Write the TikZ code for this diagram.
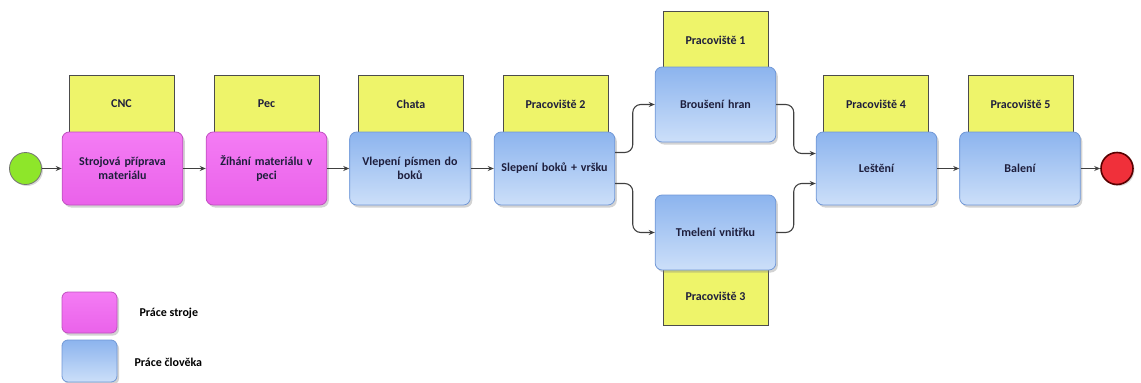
\documentclass[tikz,border=0pt]{standalone}
\usepackage{fontspec}
\setmainfont{Carlito}
\usetikzlibrary{shadows,calc,arrows.meta}
\definecolor{bluetop}{HTML}{8CB4EE}
\definecolor{bluebot}{HTML}{CCDFF9}
\definecolor{bluedraw}{HTML}{7097D6}
\definecolor{pinktop}{HTML}{F47CF4}
\definecolor{pinkbot}{HTML}{EA62EA}
\definecolor{pinkdraw}{HTML}{C050C0}
\definecolor{yel}{HTML}{EEF46A}
\definecolor{txt}{HTML}{1E1E3C}
\definecolor{arr}{HTML}{404040}
\definecolor{startg}{HTML}{8EE62A}
\definecolor{endr}{HTML}{F0303A}
\begin{document}
\begin{tikzpicture}[x=1pt,y=-1pt,
  every node/.style={font=\bfseries\fontsize{12}{14}\selectfont, text=txt, align=center},
  proc/.style={rounded corners=7pt, minimum width=120pt, minimum height=73pt, text width=114pt, line width=0.8pt,
    drop shadow={shadow xshift=2pt, shadow yshift=-2.5pt, opacity=0.35}},
  machine/.style={proc, draw=pinkdraw, top color=pinktop, bottom color=pinkbot},
  human/.style={proc, draw=bluedraw, top color=bluetop, bottom color=bluebot},
  place/.style={draw=black!70, fill=yel, minimum width=105pt, minimum height=58pt, inner sep=0pt},
  flow/.style={draw=arr, line width=1.1pt, -{Stealth[length=6pt,width=5pt]}},
  startev/.style={circle, draw=black!55, fill=startg, minimum size=32pt, inner sep=0pt, line width=0.8pt,
    drop shadow={shadow xshift=1.5pt, shadow yshift=-1.5pt, opacity=0.3}},
  endev/.style={circle, draw=red!35!black, fill=endr, minimum size=32pt, inner sep=0pt, line width=1.6pt,
    drop shadow={shadow xshift=1.5pt, shadow yshift=-1.5pt, opacity=0.3}},
  legtext/.style={anchor=west, text=black},
]
\useasboundingbox (0,0) rectangle (1141,383);
% place (workplace) labels
\node[place] (p0) at (121.5,104) {CNC};
\node[place] (p1) at (266.5,104) {Pec};
\node[place] (p2) at (411,104) {Chata};
\node[place] (p3) at (555.5,104) {Pracoviště 2};
\node[place] (pb) at (715.5,40.5) {Pracoviště 1};
\node[place] (pt) at (715.5,296.5) {Pracoviště 3};
\node[place] (p4) at (876,104) {Pracoviště 4};
\node[place] (p5) at (1020.5,104) {Pracoviště 5};
% events
\node[startev] (s) at (25.5,168.5) {};
\node[endev] (e) at (1117,168.5) {};
% processes
\node[machine] (b1) at (122.5,168.5) {Strojová příprava\\materiálu};
\node[machine] (b2) at (266.5,168.5) {Žíhání materiálu v\\peci};
\node[human] (b3) at (410,168.5) {Vlepení písmen do\\boků};
\node[human] (b4) at (554.5,168.5) {Slepení boků + vršku};
\node[human, minimum height=75pt] (br) at (715.5,104.5) {Broušení hran};
\node[human, minimum height=75pt] (tm) at (715.5,232.5) {Tmelení vnitřku};
\node[human] (le) at (876.5,168.5) {Leštění};
\node[human] (ba) at (1020,168.5) {Balení};
% flows
\draw[flow] (s) -- (b1);
\draw[flow] (b1) -- (b2);
\draw[flow] (b2) -- (b3);
\draw[flow] (b3) -- (b4);
\draw[flow, rounded corners=8pt] ($(b4.east)+(0,-16)$) -| ($(br.west)+(-22,0)$) -- (br.west);
\draw[flow, rounded corners=8pt] ($(b4.east)+(0,15)$) -| ($(tm.west)+(-22,0)$) -- (tm.west);
\draw[flow, rounded corners=8pt] (br.east) -| ($(le.west)+(-22,-15)$) -- ($(le.west)+(0,-15)$);
\draw[flow, rounded corners=8pt] (tm.east) -| ($(le.west)+(-22,15)$) -- ($(le.west)+(0,15)$);
\draw[flow] (le) -- (ba);
\draw[flow] (ba) -- (e);
% legend
\node[machine, minimum width=55pt, minimum height=41pt, text width=45pt, rounded corners=6pt] (lm) at (89.5,312.5) {};
\node[human, minimum width=55pt, minimum height=42pt, text width=45pt, rounded corners=6pt] (lh) at (89.5,361) {};
\node[legtext] (tlm) at (136,313) {Práce stroje};
\node[legtext] (tlh) at (131,362) {Práce člověka};
\end{tikzpicture}
\end{document}
